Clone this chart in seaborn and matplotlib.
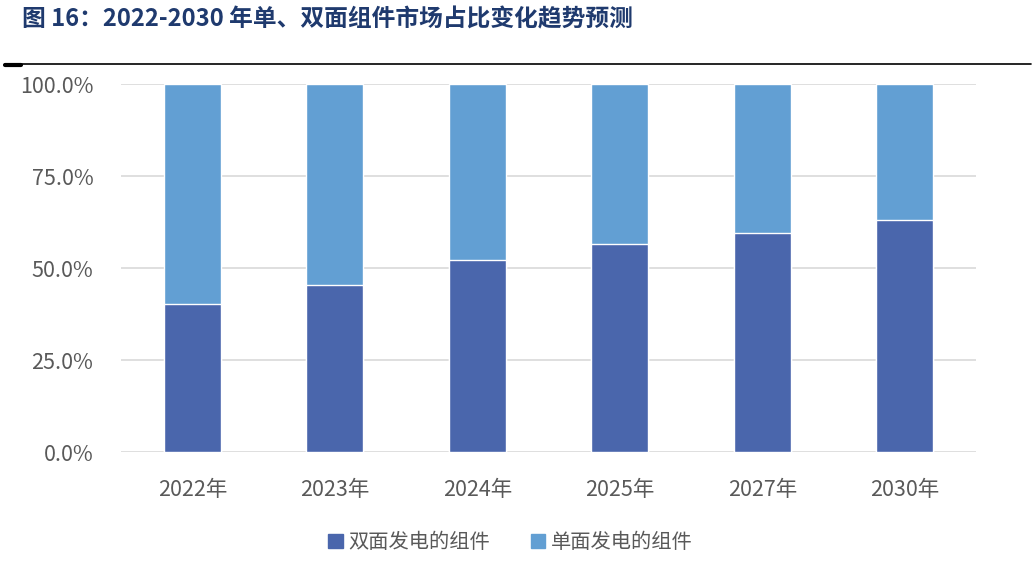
import matplotlib
matplotlib.use("Agg")
import matplotlib.pyplot as plt
import seaborn as sns
import pandas as pd
from matplotlib.ticker import PercentFormatter
from matplotlib.patches import Patch

# Data (share of bifacial modules, %)
years = ["2022年", "2023年", "2024年", "2025年", "2027年", "2030年"]
bifacial = [40.3, 45.6, 52.3, 56.7, 59.7, 63.2]
monofacial = [100 - v for v in bifacial]

df = pd.DataFrame({"year": years, "bifacial": bifacial, "monofacial": monofacial})
df["total"] = df["bifacial"] + df["monofacial"]

dark = "#4A66AC"
light = "#629FD3"

sns.set_theme(style="white")
plt.rcParams['font.family'] = ['Noto Sans CJK SC', 'DejaVu Sans']

fig = plt.figure(figsize=(10.36, 5.62), dpi=100)
ax = fig.add_axes([0.117, 0.195, 0.825, 0.655])

# stacked bars: total first (light), then bifacial on top of it (dark)
sns.barplot(data=df, x="year", y="total", color=light, width=0.4,
            saturation=1, ax=ax, zorder=3)
sns.barplot(data=df, x="year", y="bifacial", color=dark, width=0.4,
            saturation=1, ax=ax, zorder=3)

ax.set_ylim(0, 100)
ax.set_yticks([0, 25, 50, 75, 100])
ax.yaxis.set_major_formatter(PercentFormatter(decimals=1))
ax.set_xlim(-0.5, len(years) - 0.5)
ax.yaxis.grid(True, color="#D9D9D9", linewidth=1.2, zorder=0)
ax.set_axisbelow(True)
for s in ax.spines.values():
    s.set_visible(False)
ax.set_xlabel("")
ax.set_ylabel("")
ax.tick_params(axis="both", length=0, labelsize=15.5, colors="#595959")
ax.tick_params(axis="y", pad=20)
ax.tick_params(axis="x", pad=19)

# legend
handles = [Patch(color=dark, label="双面发电的组件"),
           Patch(color=light, label="单面发电的组件")]
fig.legend(handles=handles, loc="center", bbox_to_anchor=(0.493, 0.035), ncol=2,
           frameon=False, fontsize=14.6, handlelength=0.7, handleheight=0.7,
           handletextpad=0.3, columnspacing=2.0, labelcolor="#595959")

# title and separator line
fig.text(0.021, 0.966, "图 16：2022-2030 年单、双面组件市场占比变化趋势预测",
         fontsize=17.1, fontweight="bold", color="#1F3A6E", va="center", ha="left")
fig.add_artist(plt.Line2D([0.005, 0.995], [0.886, 0.886], color="black", linewidth=1.2))
fig.add_artist(plt.Line2D([0.005, 0.02], [0.884, 0.884], color="black", linewidth=3))

fig.savefig("out.png", dpi=100)
